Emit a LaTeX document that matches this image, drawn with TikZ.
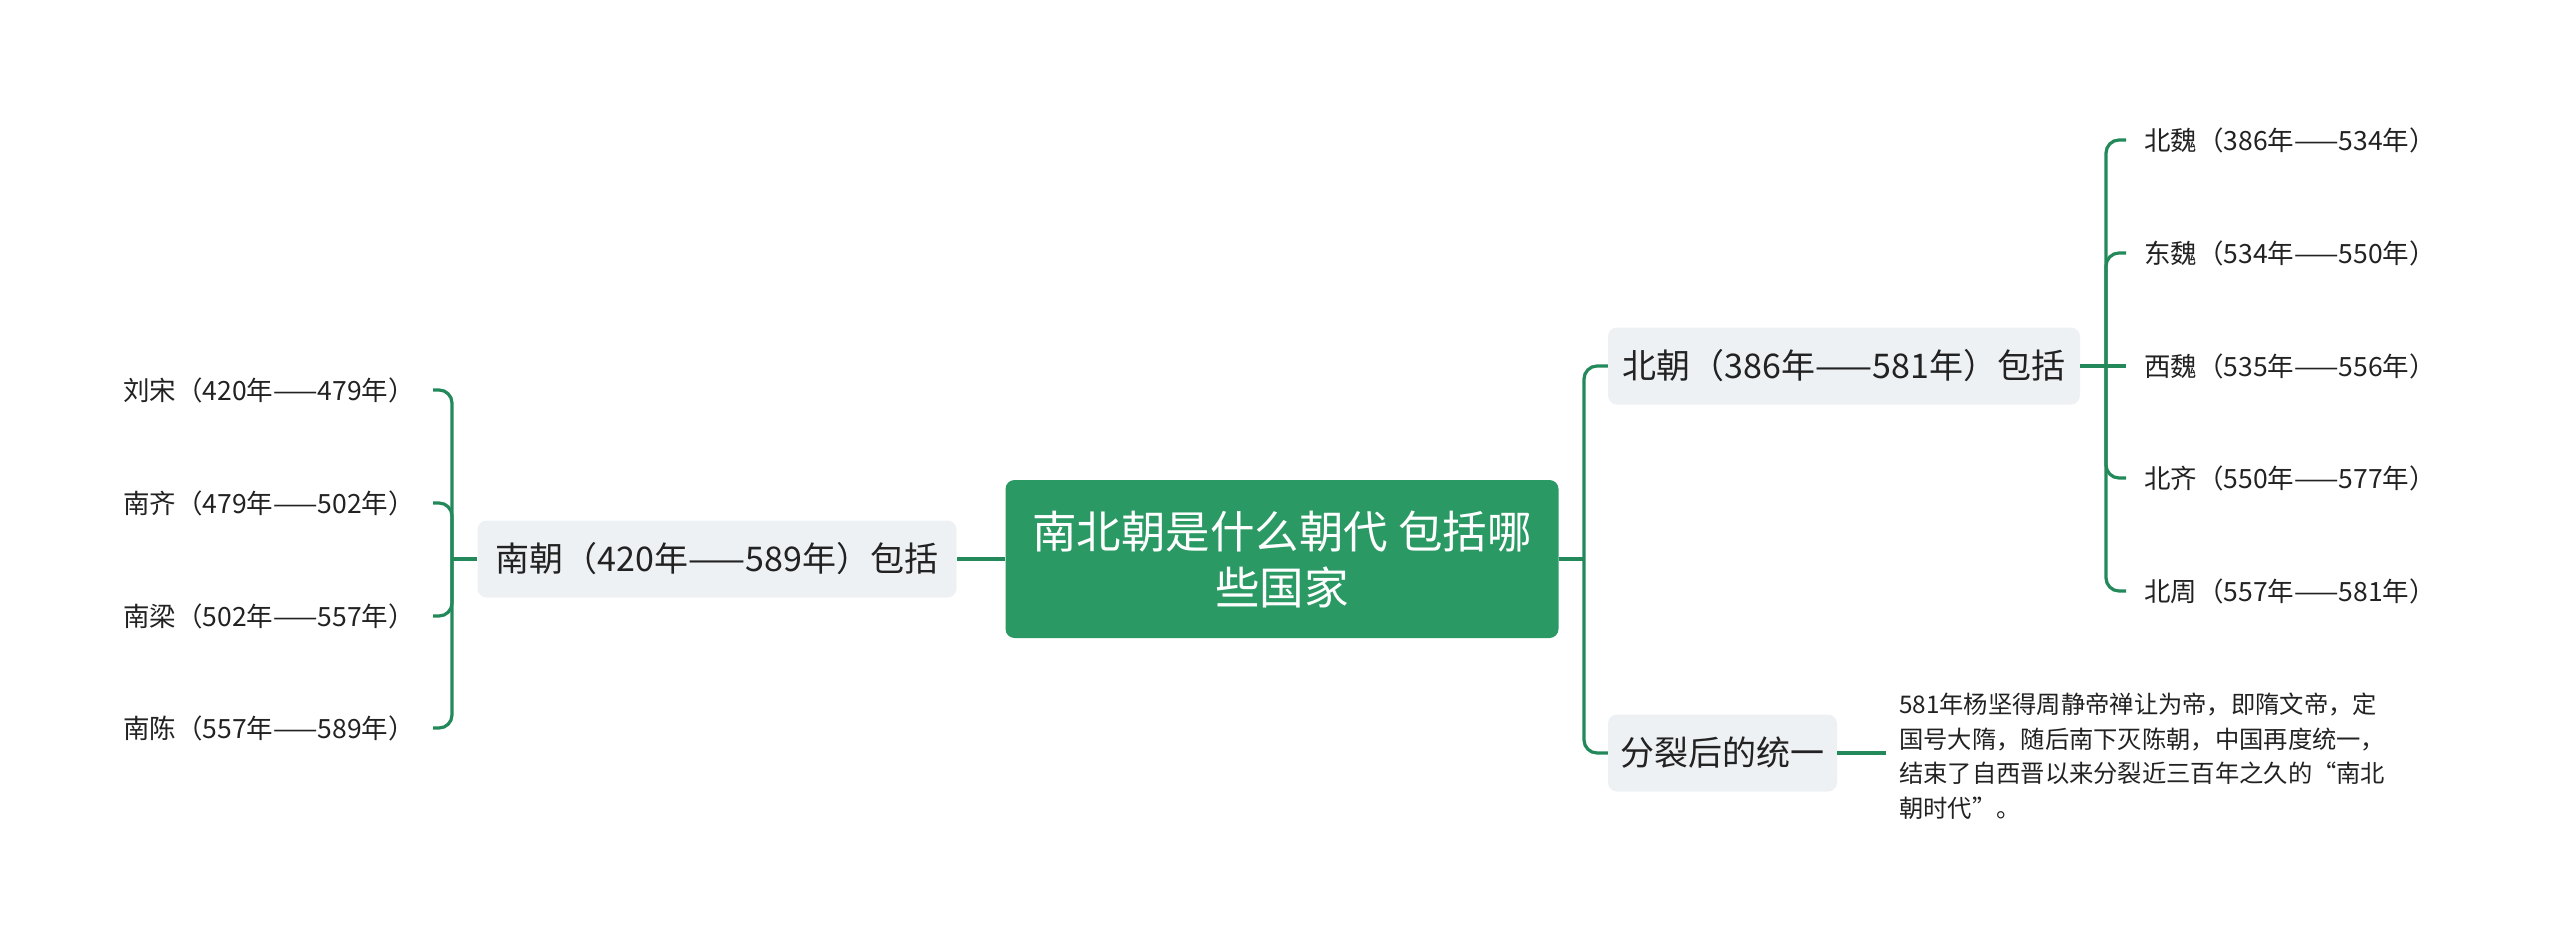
\documentclass[tikz,border=0pt]{standalone}
\usepackage{fontspec}
\setmainfont{Noto Sans CJK SC}
\definecolor{lg}{HTML}{23895A}
\definecolor{rootg}{HTML}{2A9963}
\definecolor{subbg}{HTML}{EEF1F4}
\definecolor{txt}{HTML}{222222}
\begin{document}
\begin{tikzpicture}[x=1pt,y=-1pt,
  conn/.style={draw=lg, line width=3.2pt, rounded corners=13pt},
  rootbox/.style={fill=rootg, rounded corners=9pt, text=white, minimum width=553pt, minimum height=158pt, align=center, inner sep=0pt, font=\fontsize{44.5}{56}\selectfont},
  subbox/.style={fill=subbg, rounded corners=9pt, text=txt, minimum height=77pt, inner sep=0pt, font=\fontsize{34}{40}\selectfont},
  leaf/.style={text=txt, inner xsep=18pt, inner ysep=2pt, font=\fontsize{26.5}{30}\selectfont},
  para/.style={text=txt, inner xsep=13pt, align=left, font=\fontsize{24.3}{34.5}\selectfont}]
\useasboundingbox (0,0) rectangle (2560,942);

\node[rootbox] (root) at (1282,559) {南北朝是什么朝代 包括哪\\些国家};

% left branch
\node[subbox, minimum width=479pt] (nan) at (717,559) {南朝（420年——589年）包括};
\coordinate (lb) at (452,559);
\node[leaf, anchor=east] (l1) at (433,390) {刘宋（420年——479年）};
\node[leaf, anchor=east] (l2) at (433,503) {南齐（479年——502年）};
\node[leaf, anchor=east] (l3) at (433,616) {南梁（502年——557年）};
\node[leaf, anchor=east] (l4) at (433,728) {南陈（557年——589年）};

\draw[conn] (root.west) -- (nan.east);
\draw[conn] (nan.west) -- (lb);
\foreach \c in {l1,l2,l3,l4} { \draw[conn] (lb) |- (\c.east); }

% right branch
\coordinate (rb) at (1584,559);
\node[subbox, minimum width=472pt] (bei) at (1844,366) {北朝（386年——581年）包括};
\node[subbox, minimum width=229pt] (fen) at (1722.5,753) {分裂后的统一};
\draw[conn] (root.east) -- (rb);
\draw[conn] (rb) |- (bei.west);
\draw[conn] (rb) |- (fen.west);

\coordinate (rb2) at (2106,366);
\node[leaf, anchor=west] (r1) at (2126,140) {北魏（386年——534年）};
\node[leaf, anchor=west] (r2) at (2126,253) {东魏（534年——550年）};
\node[leaf, anchor=west] (r3) at (2126,366) {西魏（535年——556年）};
\node[leaf, anchor=west] (r4) at (2126,478) {北齐（550年——577年）};
\node[leaf, anchor=west] (r5) at (2126,591) {北周（557年——581年）};
\draw[conn] (bei.east) -- (rb2);
\foreach \c in {r1,r2,r4,r5} { \draw[conn] (rb2) |- (\c.west); }
\draw[conn] (rb2) -- (r3.west);

\node[para, anchor=west] (txt) at (1886,756) {581年杨坚得周静帝禅让为帝，即隋文帝，定\\国号大隋，随后南下灭陈朝，中国再度统一，\\结束了自西晋以来分裂近三百年之久的“南北\\朝时代”。};
\draw[conn] (fen.east) -- (fen.east -| txt.west);
\end{tikzpicture}
\end{document}
